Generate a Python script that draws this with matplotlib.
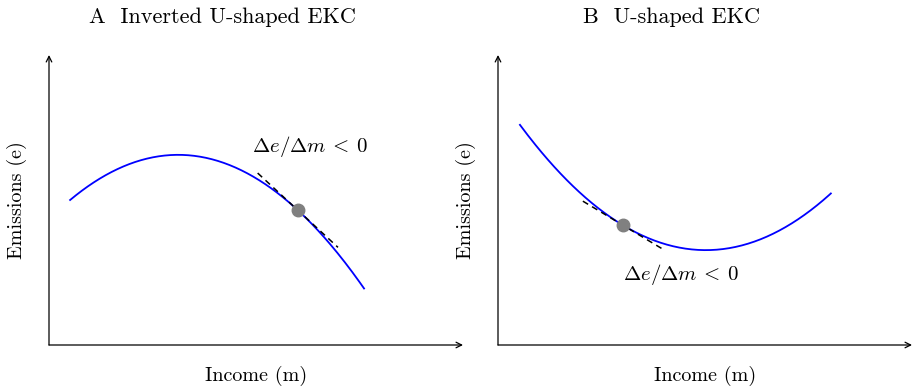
import numpy as np
import matplotlib
matplotlib.use("Agg")
import matplotlib.pyplot as plt

plt.rcParams["font.family"] = ["cmr10", "DejaVu Serif"]
plt.rcParams["mathtext.fontset"] = "cm"
plt.rcParams["axes.unicode_minus"] = False

# panel parameters (axis units: x 0..10, y 0..7)
titles = ["A  Inverted U-shaped EKC", "B  U-shaped EKC"]
curvature = [-0.16, 0.15]          # quadratic coefficient
vertex_x = [3.12, 5.02]
vertex_y = [4.59, 2.29]
x_range = [(0.51, 7.61), (0.53, 8.04)]
point_x = [6.01, 3.02]
tangent_half = [0.97, 0.97]
label_xy = [(6.3, 4.78), (4.42, 1.71)]
title_x = [4.18, 4.2]
slope_label = r"$\Delta e/\Delta m\:<\:0$"


def curve(i, x):
    return curvature[i] * (x - vertex_x[i]) ** 2 + vertex_y[i]


fig = plt.figure(figsize=(9.16, 3.87), dpi=100)
W, H = 916, 387
lefts = [49, 498]

for i in range(2):
    ax = fig.add_axes([lefts[i] / W, 42 / H, 414 / W, 290 / H])
    ax.set_xlim(0, 10)
    ax.set_ylim(0, 7)
    ax.axis("off")

    # axes with arrow heads
    ax.annotate("", xy=(10, 0), xytext=(0, 0),
                arrowprops=dict(arrowstyle="->", lw=0.9, color="black",
                                shrinkA=0, shrinkB=0), annotation_clip=False)
    ax.annotate("", xy=(0, 7), xytext=(0, 0),
                arrowprops=dict(arrowstyle="->", lw=0.9, color="black",
                                shrinkA=0, shrinkB=0), annotation_clip=False)

    xs = np.linspace(*x_range[i], 200)
    ax.plot(xs, curve(i, xs), color="blue", lw=1.3, clip_on=False)

    px = point_x[i]
    py = curve(i, px)
    slope = 2 * curvature[i] * (px - vertex_x[i])
    tx = np.array([px - tangent_half[i], px + tangent_half[i]])
    ax.plot(tx, py + slope * (tx - px), color="black", lw=1.1,
            ls=(0, (4, 3)), clip_on=False)
    ax.plot(px, py, "o", color="gray", ms=9, zorder=5, clip_on=False)

    ax.text(*label_xy[i], slope_label, fontsize=15, ha="center", va="center")
    ax.text(title_x[i], 7.9, titles[i], fontsize=16, ha="center", va="center")
    ax.text(5.0, -0.75, "Income (m)", fontsize=14.5, ha="center", va="center")
    ax.text(-0.77, 3.5, "Emissions (e)", fontsize=14.5, ha="center",
            va="center", rotation=90)

fig.savefig("out.png", dpi=100)
